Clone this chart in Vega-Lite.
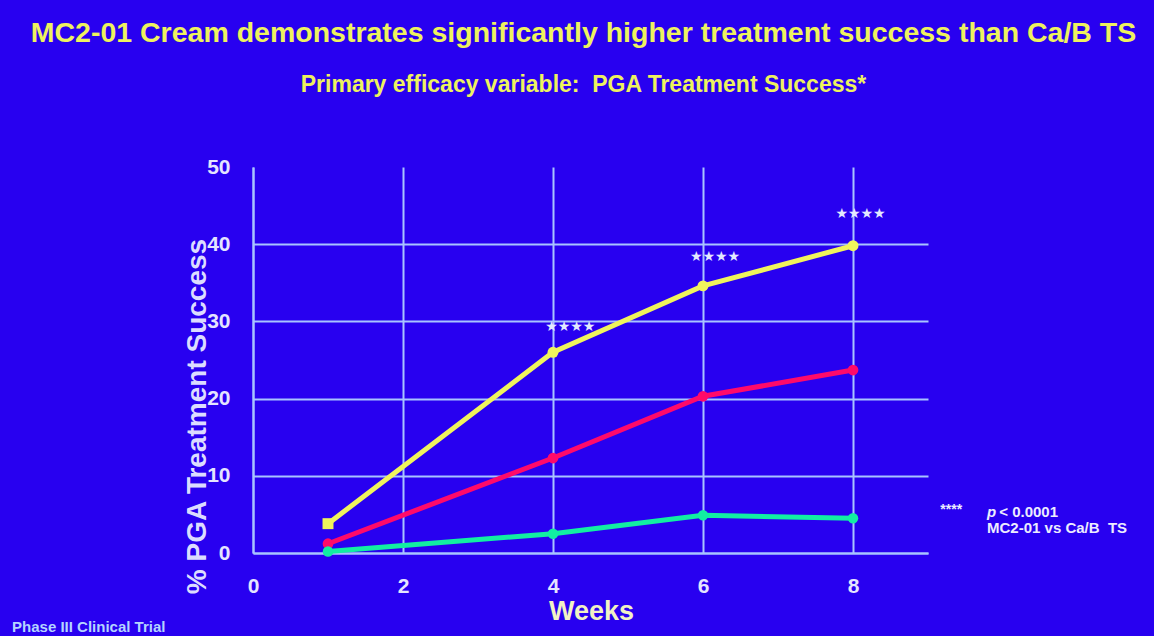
{
  "$schema": "https://vega.github.io/schema/vega-lite/v6.json",
  "width": 675,
  "height": 386,
  "autosize": {"type": "none"},
  "padding": {"left": 253, "top": 167, "right": 226, "bottom": 83},
  "background": "#2800f0",
  "config": {
    "view": {"stroke": null},
    "font": "Liberation Sans"
  },
  "title": {
    "text": "MC2-01 Cream demonstrates significantly higher treatment success than Ca/B TS",
    "subtitle": "Primary efficacy variable:\u00a0\u00a0PGA Treatment Success*",
    "anchor": "middle",
    "frame": "group",
    "dx": -7,
    "offset": 59,
    "font": "Liberation Sans",
    "fontSize": 28.5,
    "fontWeight": "bold",
    "color": "#eef25e",
    "subtitleFont": "Liberation Sans",
    "subtitleFontSize": 23,
    "subtitleFontWeight": "bold",
    "subtitleColor": "#eef25e",
    "subtitlePadding": 27
  },
  "datasets": {
    "series": [
      {"group": "MC2-01 Cream", "week": 1, "pct": 3.8},
      {"group": "MC2-01 Cream", "week": 4, "pct": 26.0},
      {"group": "MC2-01 Cream", "week": 6, "pct": 34.6},
      {"group": "MC2-01 Cream", "week": 8, "pct": 39.8},
      {"group": "Ca/B TS", "week": 1, "pct": 1.2},
      {"group": "Ca/B TS", "week": 4, "pct": 12.3},
      {"group": "Ca/B TS", "week": 6, "pct": 20.3},
      {"group": "Ca/B TS", "week": 8, "pct": 23.7},
      {"group": "Vehicle", "week": 1, "pct": 0.2},
      {"group": "Vehicle", "week": 4, "pct": 2.5},
      {"group": "Vehicle", "week": 6, "pct": 4.9},
      {"group": "Vehicle", "week": 8, "pct": 4.5}
    ],
    "stars": [
      {"week": 4.23, "pct": 29.3, "label": "★★★★"},
      {"week": 6.16, "pct": 38.3, "label": "★★★★"},
      {"week": 8.1, "pct": 43.9, "label": "★★★★"}
    ],
    "notes": [
      {"week": 9.31, "pct": 5.6, "label": "****", "kind": "key"},
      {"week": 9.787, "pct": 5.31, "label": "p", "kind": "italic"},
      {"week": 9.95, "pct": 5.31, "label": "< 0.0001", "kind": "text"},
      {"week": 9.787, "pct": 3.24, "label": "MC2-01 vs Ca/B\u00a0\u00a0TS", "kind": "text"},
      {"week": -3.213, "pct": -9.59, "label": "Phase III Clinical Trial", "kind": "footer"}
    ]
  },
  "layer": [
    {
      "data": {"name": "series"},
      "mark": {"type": "line", "strokeWidth": 5},
      "encoding": {
        "x": {
          "field": "week", "type": "quantitative",
          "scale": {"domain": [0, 9], "nice": false, "zero": false},
          "axis": {
            "values": [0, 2, 4, 6, 8], "format": "d", "labelFlush": false,
            "grid": true, "gridColor": "#a8c4ff", "gridWidth": 2,
            "domain": true, "domainColor": "#a8c4ff", "domainWidth": 2,
            "ticks": false,
            "labelFont": "Liberation Sans", "labelFontSize": 21, "labelFontWeight": "bold",
            "labelColor": "#e4e4ff", "labelPadding": 22,
            "title": "Weeks",
            "titleFont": "Liberation Sans", "titleFontSize": 27, "titleFontWeight": "bold",
            "titleColor": "#f2f2c4",
            "titleX": 338, "titleY": 45, "titleBaseline": "top", "titleAlign": "center"
          }
        },
        "y": {
          "field": "pct", "type": "quantitative",
          "scale": {"domain": [0, 50], "nice": false},
          "axis": {
            "values": [0, 10, 20, 30, 40, 50], "format": "d",
            "grid": true, "gridColor": "#a8c4ff", "gridWidth": 2,
            "gridOpacity": {"condition": {"test": "datum.value >= 50", "value": 0}, "value": 1},
            "domain": true, "domainColor": "#a8c4ff", "domainWidth": 2,
            "ticks": false,
            "labelFont": "Liberation Sans", "labelFontSize": 21, "labelFontWeight": "bold",
            "labelColor": "#e4e4ff", "labelPadding": 23,
            "title": "% PGA Treatment Success",
            "titleFont": "Liberation Sans", "titleFontSize": 28, "titleFontWeight": "bold",
            "titleColor": "#dcdcff",
            "titleAngle": -90, "titleX": -42, "titleY": 249,
            "titleBaseline": "bottom", "titleAlign": "center"
          }
        },
        "color": {
          "field": "group", "type": "nominal",
          "scale": {"domain": ["Vehicle", "Ca/B TS", "MC2-01 Cream"], "range": ["#12eea2", "#ff0a6a", "#f0f45c"]},
          "legend": null
        },
        "order": {"field": "week", "type": "quantitative"}
      }
    },
    {
      "data": {"name": "series"},
      "mark": {"type": "point", "filled": true, "opacity": 1},
      "encoding": {
        "x": {"field": "week", "type": "quantitative"},
        "y": {"field": "pct", "type": "quantitative"},
        "color": {"field": "group", "type": "nominal", "legend": null},
        "size": {"field": "group", "type": "nominal", "scale": {"domain": ["Vehicle", "Ca/B TS", "MC2-01 Cream"], "range": [110, 120, 220]}, "legend": null},
        "shape": {"condition": {"test": "datum.week === 1 && datum.group === 'MC2-01 Cream'", "value": "square"}, "value": "circle"}
      }
    },
    {
      "data": {"name": "stars"},
      "mark": {"type": "text", "font": "DejaVu Sans", "fontSize": 14, "color": "#e2e8ff", "align": "center", "baseline": "middle"},
      "encoding": {
        "x": {"field": "week", "type": "quantitative"},
        "y": {"field": "pct", "type": "quantitative"},
        "text": {"field": "label"}
      }
    },
    {
      "data": {"name": "notes"},
      "transform": [{"filter": "datum.kind === 'text'"}],
      "mark": {"type": "text", "font": "Liberation Sans", "fontSize": 15, "fontWeight": "bold", "color": "#ececff", "align": "left", "baseline": "middle", "clip": false},
      "encoding": {
        "x": {"field": "week", "type": "quantitative"},
        "y": {"field": "pct", "type": "quantitative"},
        "text": {"field": "label"}
      }
    },
    {
      "data": {"name": "notes"},
      "transform": [{"filter": "datum.kind === 'italic'"}],
      "mark": {"type": "text", "font": "Liberation Sans", "fontSize": 15, "fontWeight": "bold", "fontStyle": "italic", "color": "#ececff", "align": "left", "baseline": "middle"},
      "encoding": {
        "x": {"field": "week", "type": "quantitative"},
        "y": {"field": "pct", "type": "quantitative"},
        "text": {"field": "label"}
      }
    },
    {
      "data": {"name": "notes"},
      "transform": [{"filter": "datum.kind === 'key'"}],
      "mark": {"type": "text", "font": "Liberation Sans", "fontSize": 14, "fontWeight": "bold", "color": "#ececff", "align": "center", "baseline": "middle"},
      "encoding": {
        "x": {"field": "week", "type": "quantitative"},
        "y": {"field": "pct", "type": "quantitative"},
        "text": {"field": "label"}
      }
    },
    {
      "data": {"name": "notes"},
      "transform": [{"filter": "datum.kind === 'footer'"}],
      "mark": {"type": "text", "font": "Liberation Sans", "fontSize": 15, "fontWeight": "bold", "color": "#b4d4ff", "align": "left", "baseline": "middle"},
      "encoding": {
        "x": {"field": "week", "type": "quantitative"},
        "y": {"field": "pct", "type": "quantitative"},
        "text": {"field": "label"}
      }
    }
  ]
}
